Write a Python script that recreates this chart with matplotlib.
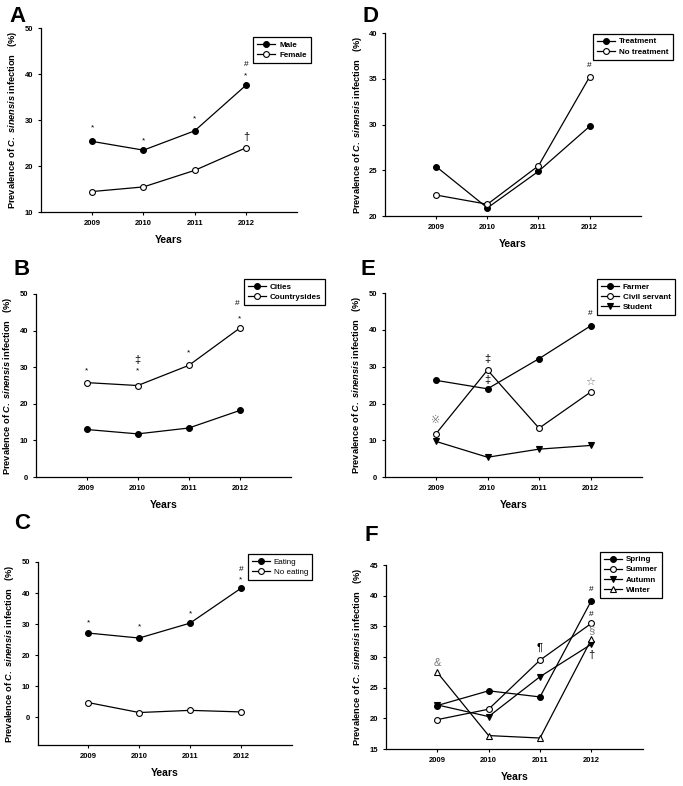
import matplotlib
matplotlib.use('Agg')
import matplotlib.pyplot as plt

plt.rcParams['font.family'] = ['Liberation Sans', 'DejaVu Sans', 'Noto Sans CJK SC']
plt.rcParams['font.weight'] = 'bold'
plt.rcParams['mathtext.fontset'] = 'custom'
plt.rcParams['mathtext.it'] = 'Liberation Sans:italic:bold'
plt.rcParams['mathtext.rm'] = 'Liberation Sans:bold'

years = [2009, 2010, 2011, 2012]

# A
male = [25.4, 23.5, 27.7, 37.6]
female = [14.5, 15.5, 19.1, 24.0]
# B
cities = [13.0, 11.8, 13.4, 18.2]
countrysides = [25.8, 25.0, 30.5, 40.7]
# C
eating = [27.1, 25.5, 30.3, 41.5]
no_eating = [4.7, 1.5, 2.2, 1.7]
# D
treatment = [25.4, 20.9, 24.9, 29.8]
no_treatment = [22.3, 21.3, 25.5, 35.2]
# E
farmer = [26.3, 24.0, 32.2, 41.1]
civil_servant = [11.8, 29.1, 13.3, 23.1]
student = [9.7, 5.4, 7.6, 8.6]
# F
spring = [22.1, 24.5, 23.5, 39.2]
summer = [19.8, 21.5, 29.5, 35.5]
autumn = [22.2, 20.3, 26.8, 32.1]
winter = [27.5, 17.2, 16.8, 32.9]

GRAY = '#777777'

# (year, y, text, color)
notes_a = [(2009, 28.3, '*', 'k'), (2010, 25.5, '*', 'k'), (2011, 30.2, '*', 'k'),
           (2012, 39.6, '*', 'k'), (2012, 42.1, '#', 'k'), (2012, 26.4, '†', 'k')]
notes_b = [(2009, 29.1, '*', 'k'), (2010, 29.1, '*', 'k'), (2010, 31.9, '‡', 'k'),
           (2011, 33.8, '*', 'k'), (2012, 43.2, '*', 'k'), (2011.95, 47.5, '#', 'k')]
notes_c = [(2009, 30.5, '*', 'k'), (2010, 29.0, '*', 'k'), (2011, 33.2, '*', 'k'),
           (2012, 44.3, '*', 'k'), (2012, 47.5, '#', 'k')]
notes_d = [(2012, 36.5, '#', 'k')]
notes_e = [(2009, 15.4, '※', GRAY), (2010, 32.1, '‡', 'k'), (2010, 26.4, '‡', 'k'),
           (2012, 44.6, '#', 'k'), (2012, 25.8, '☆', GRAY)]
notes_f = [(2009, 29.1, '&', GRAY), (2011, 31.5, '¶', 'k'), (2012, 41.1, '#', 'k'),
           (2012, 37.0, '#', 'k'), (2012, 34.4, '§', GRAY), (2012, 30.4, '†', 'k')]

filled = dict(marker='o', color='k', mfc='k', mec='k')
hollow = dict(marker='o', color='k', mfc='white', mec='k')
tri_down = dict(marker='v', color='k', mfc='k', mec='k')
tri_up = dict(marker='^', color='k', mfc='white', mec='k')

# letter, axes rect, ylim, yticks, series, notes, legend upper-right, letter pos
panels = [
    ('A', [0.060, 0.730, 0.375, 0.234], (10, 50), [10, 20, 30, 40, 50],
     [(male, 'Male', filled), (female, 'Female', hollow)], notes_a,
     (0.455, 0.953), (0.025, 0.993)),
    ('D', [0.564, 0.725, 0.374, 0.233], (20, 40), [20, 25, 30, 35, 40],
     [(treatment, 'Treatment', filled), (no_treatment, 'No treatment', hollow)], notes_d,
     (0.985, 0.957), (0.542, 0.992)),
    ('B', [0.052, 0.393, 0.374, 0.233], (0, 50), [0, 10, 20, 30, 40, 50],
     [(cities, 'Cities', filled), (countrysides, 'Countrysides', hollow)], notes_b,
     (0.476, 0.645), (0.032, 0.671)),
    ('E', [0.563, 0.393, 0.377, 0.234], (0, 50), [0, 10, 20, 30, 40, 50],
     [(farmer, 'Farmer', filled), (civil_servant, 'Civil servant', hollow),
      (student, 'Student', tri_down)], notes_e,
     (0.988, 0.645), (0.539, 0.671)),
    ('C', [0.055, 0.052, 0.372, 0.233], (-9, 50), [0, 10, 20, 30, 40, 50],
     [(eating, 'Eating', filled), (no_eating, 'No eating', hollow)], notes_c,
     (0.457, 0.295), (0.032, 0.347)),
    ('F', [0.565, 0.047, 0.376, 0.234], (15, 45), [15, 20, 25, 30, 35, 40, 45],
     [(spring, 'Spring', filled), (summer, 'Summer', hollow),
      (autumn, 'Autumn', tri_down), (winter, 'Winter', tri_up)], notes_f,
     (0.969, 0.298), (0.543, 0.332)),
]

fig = plt.figure(figsize=(6.83, 7.86), dpi=100)

ylabel = r'Prevalence of $\mathit{C.\ sinensis}$ infection   (%)'

for letter, rect, ylim, yticks, series, notes, leg_pos, let_pos in panels:
    ax = fig.add_axes(rect)
    for vals, name, style in series:
        ax.plot(years, vals, label=name, lw=0.9, ms=4.2, mew=0.8, **style)
    for x, y, t, c in notes:
        ax.text(x, y, t, ha='center', va='center', fontsize=6 if t in '*#' else 8,
                color=c, fontweight='normal')
    ax.set_xlim(2008, 2013)
    ax.set_ylim(*ylim)
    ax.set_xticks(years)
    ax.set_yticks(yticks)
    ax.spines['top'].set_visible(False)
    ax.spines['right'].set_visible(False)
    ax.spines['left'].set_linewidth(0.9)
    ax.spines['bottom'].set_linewidth(0.9)
    ax.tick_params(labelsize=5.5, length=2.5, width=0.8, pad=3)
    for lab in ax.get_xticklabels() + ax.get_yticklabels():
        lab.set_fontweight('bold')
    ax.set_xlabel('Years', fontsize=7.5, fontweight='bold', labelpad=6)
    ax.set_ylabel(ylabel, fontsize=6.7, fontweight='bold', labelpad=4)
    leg = ax.legend(loc='upper right', bbox_to_anchor=leg_pos, bbox_transform=fig.transFigure,
                    fontsize=5.8, frameon=True, fancybox=False, framealpha=1,
                    edgecolor='k', handlelength=2.2, handletextpad=0.5,
                    borderpad=0.5, labelspacing=0.3, borderaxespad=0)
    leg.get_frame().set_linewidth(0.9)
    for t in leg.get_texts():
        t.set_fontweight('normal' if letter == 'C' else 'bold')
    fig.text(let_pos[0], let_pos[1], letter, fontsize=16, fontweight='bold',
             ha='center', va='top')

fig.savefig('out.png', dpi=100)
